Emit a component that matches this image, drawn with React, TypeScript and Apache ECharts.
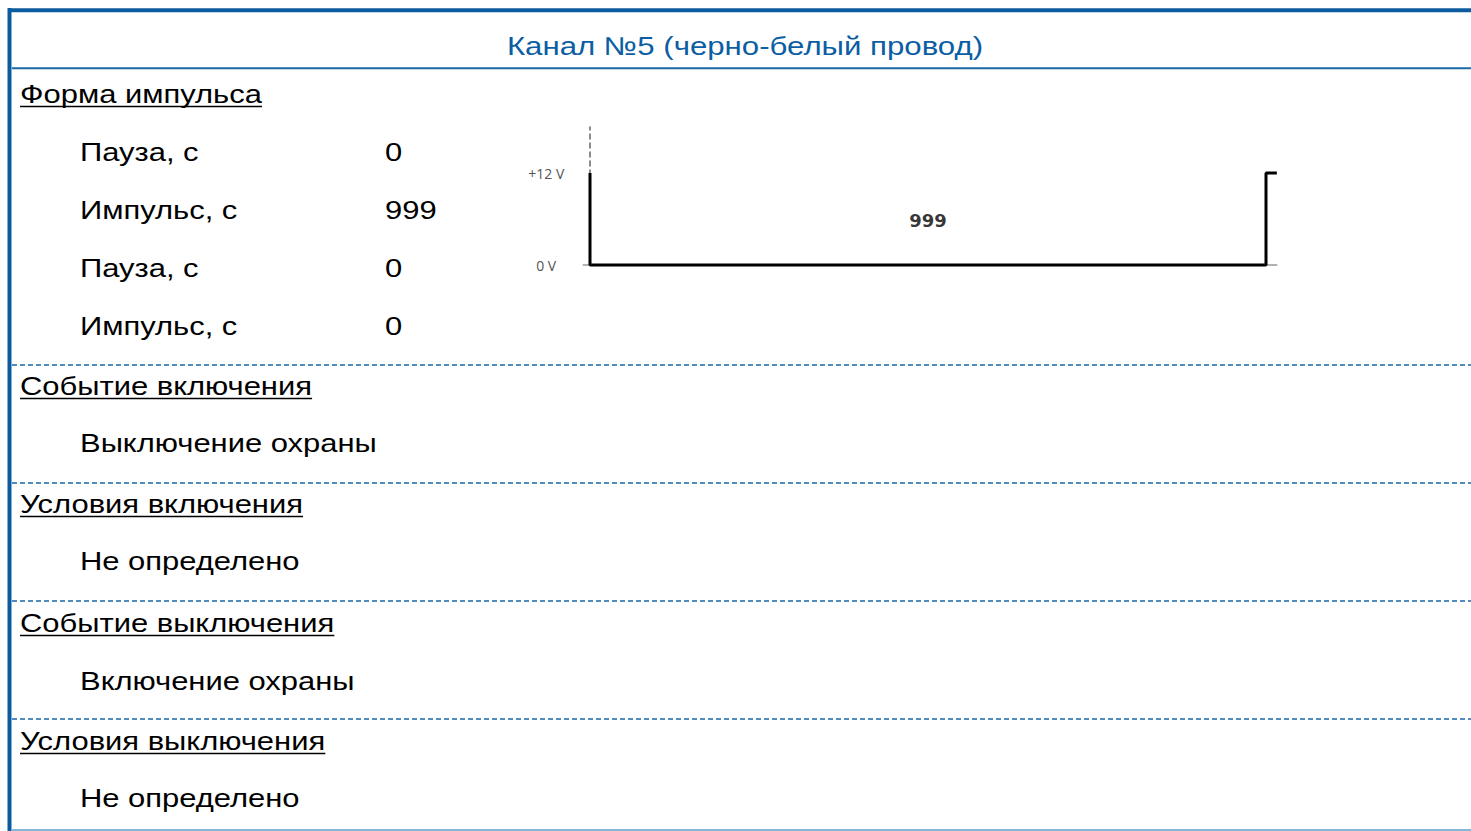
import React, { useEffect, useRef } from "react";
import * as echarts from "echarts";

// ---------- data ----------
const TITLE = "Канал №5 (черно-белый провод)";
const PULSE_HEADER = "Форма импульса";
const phaseLabels = ["Пауза, с", "Импульс, с", "Пауза, с", "Импульс, с"];
const phaseValues = [0, 999, 0, 0];
const phaseLevels = [12, 0, 12, 0];
const levelTicks = [0, 12];
const levelTickLabels = ["0 V", "+12 V"];
const timeAxisStart = -10;
const timeAxisEnd = 1015;
const levelAxisMax = 18;
const sectionHeaders = [
  "Событие включения",
  "Условия включения",
  "Событие выключения",
  "Условия выключения",
];
const sectionItems = [
  "Выключение охраны",
  "Не определено",
  "Включение охраны",
  "Не определено",
];

// ---------- layout ----------
const W = 1471;
const H = 831;
const FONT = "'Liberation Sans', Arial, sans-serif";
const FS = 26;
const SX = 1.19;
const BLUE = "#0b5c9e";

function measure(text: string, fs: number): number {
  const c = document.createElement("canvas");
  const ctx = c.getContext("2d");
  if (!ctx) return text.length * fs * 0.55;
  ctx.font = `${fs}px 'Liberation Sans'`;
  return ctx.measureText(text).width;
}

export default function App() {
  const ref = useRef<HTMLDivElement>(null);

  useEffect(() => {
    if (!ref.current) return;
    const chart = echarts.init(ref.current, undefined, { renderer: "svg" });

    // pulse chart pixel mapping
    const px0 = 590;
    const pxEnd = 1266;
    const k = (pxEnd - px0) / 999;
    const gridLeft = px0 + timeAxisStart * k;
    const gridWidth = (timeAxisEnd - timeAxisStart) * k;
    const py0 = 265;
    const py12 = 173;
    const ky = (py0 - py12) / 12;
    const gridTop = py0 - levelAxisMax * ky;
    const gridHeight = levelAxisMax * ky;

    // waveform points
    const pts: number[][] = [];
    const labels: number[][] = [];
    let t = 0;
    phaseValues.forEach((v, i) => {
      pts.push([t, phaseLevels[i]]);
      if (v > 0) labels.push([t + v / 2, 6, v]);
      t += v;
      pts.push([t, phaseLevels[i]]);
    });
    pts.push([t, 12]);
    pts.push([timeAxisEnd, 12]);

    const graphics: any[] = [];
    const text = (s: string, x: number, y: number, extra: any = {}, fs = FS, sx = SX) => ({
      type: "text",
      x,
      y,
      scaleX: sx,
      style: {
        text: s,
        fontSize: fs,
        fontFamily: FONT,
        fill: "#000",
        verticalAlign: "middle",
        align: "left",
        ...extra,
      },
    });
    const header = (s: string, y: number) => {
      graphics.push(text(s, 20, y));
      graphics.push({
        type: "line",
        shape: { x1: 20, y1: y + 12.5, x2: 20 + measure(s, FS) * SX, y2: y + 12.5 },
        style: { stroke: "#000", lineWidth: 1.6 },
      });
    };

    // frame
    graphics.push({ type: "line", shape: { x1: 8, y1: 10.3, x2: W, y2: 10.3 }, style: { stroke: BLUE, lineWidth: 4 } });
    graphics.push({ type: "line", shape: { x1: 9.5, y1: 8, x2: 9.5, y2: 831 }, style: { stroke: BLUE, lineWidth: 4 } });
    graphics.push({ type: "line", shape: { x1: 12, y1: 68.3, x2: W, y2: 68.3 }, style: { stroke: "#1a69ab", lineWidth: 2 } });
    graphics.push({ type: "line", shape: { x1: 12, y1: 830, x2: W, y2: 830 }, style: { stroke: "#86b6d6", lineWidth: 2 } });
    [365, 483, 601, 719].forEach((y) =>
      graphics.push({
        type: "line",
        shape: { x1: 12, y1: y, x2: W, y2: y },
        style: { stroke: "#1767ab", lineWidth: 1.6, lineDash: [5, 3] },
      })
    );

    // title
    graphics.push(text(TITLE, 745, 46, { fill: "#0b5ea3", align: "center" }, 26, 1.2));

    // pulse section
    header(PULSE_HEADER, 94);
    phaseLabels.forEach((s, i) => {
      const y = 152 + i * 58;
      graphics.push(text(s, 80, y));
      graphics.push(text(String(phaseValues[i]), 385, y));
    });

    // other sections
    const headerYs = [386, 504, 623, 741];
    const itemYs = [443, 561, 681, 798];
    sectionHeaders.forEach((s, i) => {
      header(s, headerYs[i]);
      graphics.push(text(sectionItems[i], 80, itemYs[i]));
    });

    chart.setOption({
      animation: false,
      backgroundColor: "#fff",
      grid: { left: gridLeft, top: gridTop, width: gridWidth, height: gridHeight, containLabel: false },
      xAxis: {
        type: "value",
        min: timeAxisStart,
        max: timeAxisEnd,
        axisLine: { show: true, onZero: true, lineStyle: { color: "#999", width: 1.5 } },
        axisTick: { show: false },
        axisLabel: { show: false },
        splitLine: { show: false },
      },
      yAxis: {
        type: "value",
        min: 0,
        max: levelAxisMax,
        interval: 12,
        axisLine: { show: true, onZero: true, lineStyle: { color: "#666", width: 1.5, type: [5, 4] } },
        axisTick: { show: false },
        splitLine: { show: false },
        axisLabel: {
          show: true,
          margin: 37,
          align: "center",
          color: "#555",
          fontSize: 14,
          fontFamily: "'Open Sans', sans-serif",
          formatter: (v: number) => {
            const idx = levelTicks.indexOf(v);
            return idx >= 0 ? levelTickLabels[idx] : "";
          },
        },
      },
      series: [
        {
          type: "line",
          data: pts,
          showSymbol: false,
          symbol: "none",
          clip: false,
          lineStyle: { color: "#000", width: 3 },
          z: 5,
        },
        {
          type: "scatter",
          data: labels,
          symbolSize: 1,
          itemStyle: { color: "transparent" },
          label: {
            show: true,
            position: "inside",
            offset: [0, 1],
            formatter: (p: any) => String(p.data[2]),
            fontFamily: "'DejaVu Sans', sans-serif",
            fontWeight: "bold",
            fontSize: 18,
            color: "#000",
          },
        },
      ],
      graphic: graphics,
    });

    return () => chart.dispose();
  }, []);

  return (
    <div
      ref={ref}
      style={{ position: "fixed", left: 0, top: 0, width: W, height: H, background: "#fff" }}
    />
  );
}
